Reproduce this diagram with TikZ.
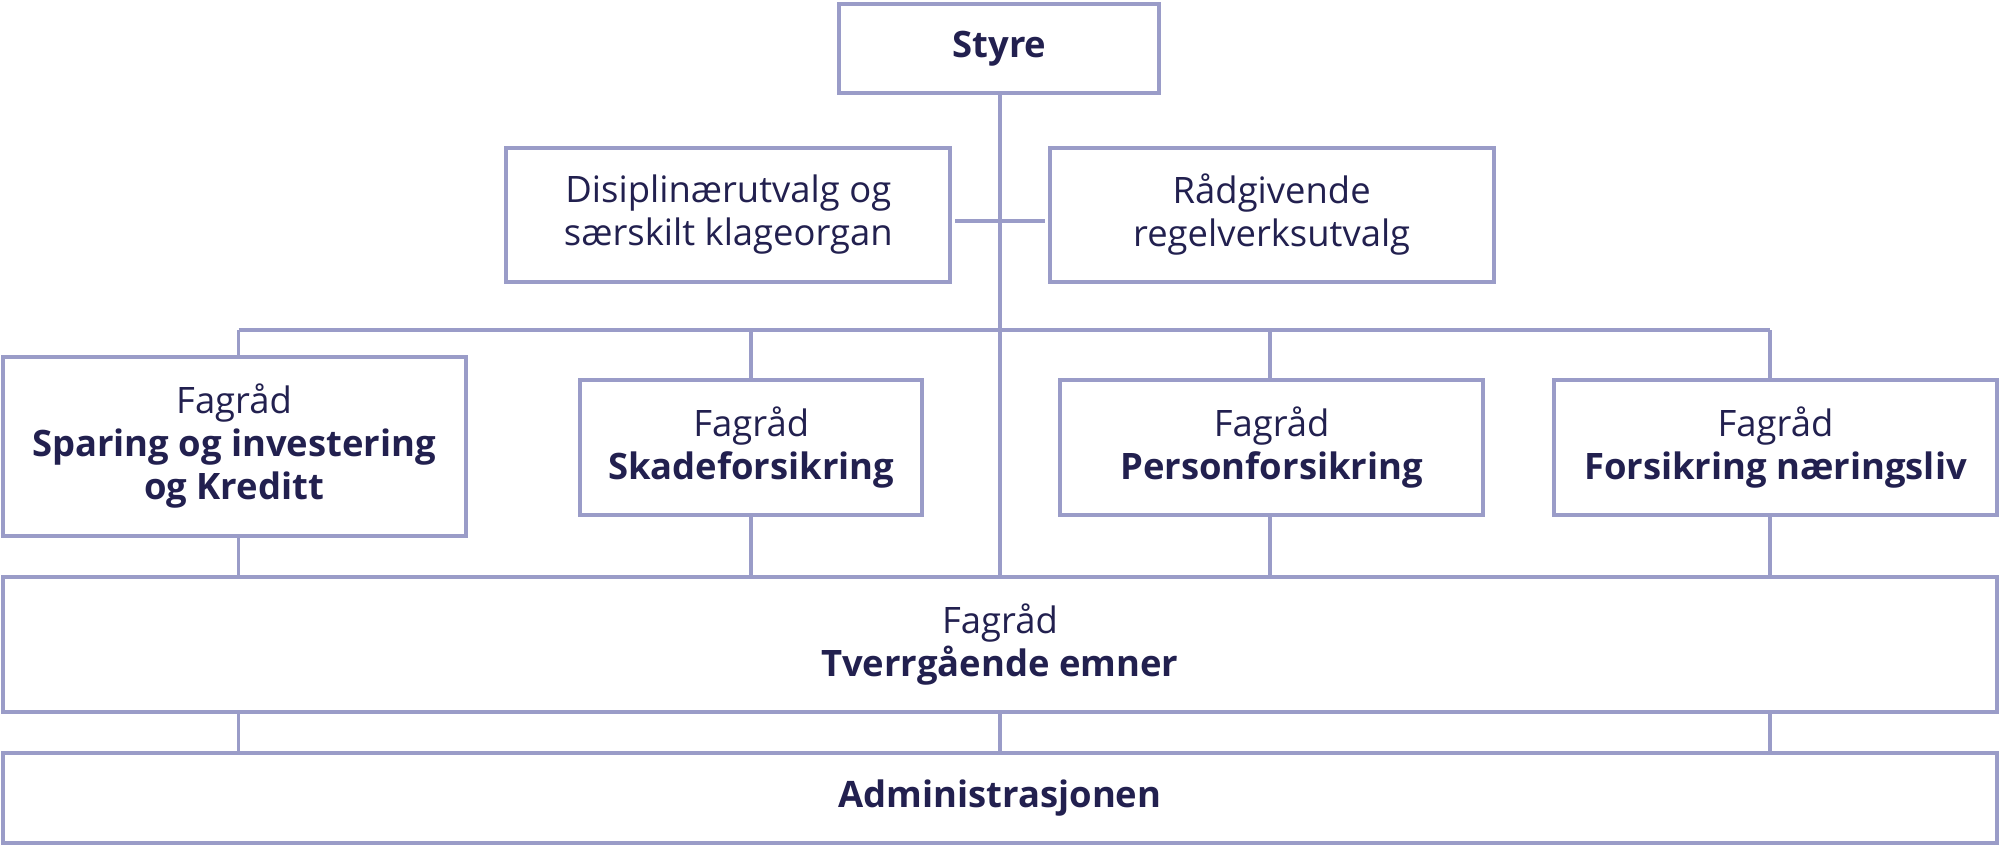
\documentclass[tikz,border=0pt]{standalone}
\usepackage{fontspec}
\setmainfont{Open Sans}
\definecolor{bord}{HTML}{9A9CC8}
\definecolor{txt}{HTML}{22204F}
\begin{document}
\begin{tikzpicture}[x=0.025cm,y=-0.025cm,
  bx/.style={draw=bord,line width=2.2pt,fill=white,text=txt,align=center,inner sep=0pt,
    font=\fontsize{20.3}{24}\selectfont},
  ln/.style={draw=bord,line width=2.2pt}]
\useasboundingbox (0,0) rectangle (1568,663);
\tikzset{box/.style args={#1,#2,#3,#4}{bx,minimum width={(#3-#1)*0.025cm},minimum height={(#4-#2)*0.025cm}}}
\newcommand\bxat[6]{\node[box={#2,#3,#4,#5}] (#1) at ({(#2+#4)/2},{(#3+#5)/2}) {#6};}
\coordinate (top) at (784,73);
\coordinate (bot) at (784,452);
\draw[ln] (top) -- (bot);
\coordinate (sl) at (749,173); \coordinate (sr) at (819,173);
\draw[ln] (sl) -- (sr);
\coordinate (b1) at (187,259); \coordinate (b4) at (1388,259);
\draw[ln] (b1) -- (b4);
\bxat{styre}{658}{3}{909}{73}{\textbf{Styre}}
\bxat{dis}{397}{116}{745}{221}{Disiplinærutvalg og\\særskilt klageorgan}
\bxat{rad}{823}{116}{1171}{221}{Rådgivende\\regelverksutvalg}
\bxat{f1}{2}{280}{365}{420}{Fagråd\\\textbf{Sparing og investering}\\\textbf{og Kreditt}}
\bxat{f2}{455}{298}{723}{404}{Fagråd\\\textbf{Skadeforsikring}}
\bxat{f3}{831}{298}{1163}{404}{Fagråd\\\textbf{Personforsikring}}
\bxat{f4}{1218}{298}{1566}{404}{Fagråd\\\textbf{Forsikring næringsliv}}
\bxat{tv}{2}{452}{1566}{558}{Fagråd\\\textbf{Tverrgående emner}}
\bxat{adm}{2}{590}{1566}{661}{\textbf{Administrasjonen}}
\draw[ln] (b1) -- (187,280);
\draw[ln] (589,259) -- (589,298);
\draw[ln] (996,259) -- (996,298);
\draw[ln] (b4) -- (1388,298);
\draw[ln] (187,420) -- (187,452);
\draw[ln] (589,404) -- (589,452);
\draw[ln] (996,404) -- (996,452);
\draw[ln] (1388,404) -- (1388,452);
\draw[ln] (187,558) -- (187,590);
\draw[ln] (784,558) -- (784,590);
\draw[ln] (1388,558) -- (1388,590);
\end{tikzpicture}
\end{document}
